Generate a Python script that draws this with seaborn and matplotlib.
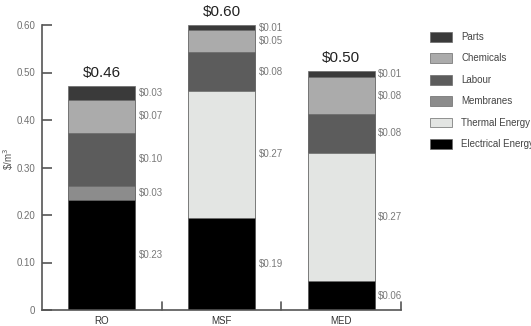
import numpy as np
import pandas as pd
import matplotlib
matplotlib.use("Agg")
import matplotlib.pyplot as plt
import seaborn as sns
from matplotlib.patches import Patch

# ---- data ----
methods = ["RO", "MSF", "MED"]
components = ["Electrical Energy", "Thermal Energy", "Membranes", "Labour", "Chemicals", "Parts"]  # bottom -> top
# drawn segment heights ($/m3)
electrical = [0.232, 0.194, 0.061]
thermal = [0.0, 0.267, 0.270]
membranes = [0.029, 0.0, 0.0]
labour = [0.112, 0.082, 0.082]
chemicals = [0.069, 0.046, 0.077]
parts = [0.030, 0.011, 0.013]
# printed labels
electrical_lbl = ["$0.23", "$0.19", "$0.06"]
thermal_lbl = ["", "$0.27", "$0.27"]
membranes_lbl = ["$0.03", "", ""]
labour_lbl = ["$0.10", "$0.08", "$0.08"]
chemicals_lbl = ["$0.07", "$0.05", "$0.08"]
parts_lbl = ["$0.03", "$0.01", "$0.01"]
totals_lbl = ["$0.46", "$0.60", "$0.50"]
yticks = [0, 0.10, 0.20, 0.30, 0.40, 0.50, 0.60]
ytick_labels = ["0", "0.10", "0.20", "0.30", "0.40", "0.50", "0.60"]

colors = {
    "Electrical Energy": "#000000",
    "Thermal Energy": "#e3e5e3",
    "Membranes": "#8c8c8c",
    "Labour": "#5c5c5c",
    "Chemicals": "#ababab",
    "Parts": "#3a3a3a",
}

values = [electrical, thermal, membranes, labour, chemicals, parts]
labels = [electrical_lbl, thermal_lbl, membranes_lbl, labour_lbl, chemicals_lbl, parts_lbl]

rows = []
for comp, vals, lbls in zip(components, values, labels):
    for m, v, l in zip(methods, vals, lbls):
        rows.append({"method": m, "component": comp, "value": v, "label": l})
df = pd.DataFrame(rows)
df["component"] = pd.Categorical(df["component"], components, ordered=True)
df["method"] = pd.Categorical(df["method"], methods, ordered=True)
df = df.sort_values(["method", "component"])
df["top"] = df.groupby("method", observed=True)["value"].cumsum()
df["bottom"] = df["top"] - df["value"]

sns.set_theme(style="white")
plt.rcParams["font.family"] = ["Liberation Sans", "DejaVu Sans"]

fig = plt.figure(figsize=(5.31, 3.26), dpi=100)
ax = fig.add_axes([42 / 531, 16 / 326, (401 - 42) / 531, (310 - 25) / 326])

bar_w = 0.56
# draw cumulative bars from top component down so each covers the one above
for comp in components[::-1]:
    sub = df[df["component"] == comp]
    sns.barplot(data=sub, x="method", y="top", order=methods, color=colors[comp],
                saturation=1, errorbar=None, width=bar_w, ax=ax,
                edgecolor="#6a6a6a", linewidth=0.5)

# value labels
for _, r in df.iterrows():
    if r["label"]:
        xi = methods.index(r["method"])
        ax.text(xi + bar_w / 2 + 0.03, (r["bottom"] + r["top"]) / 2, r["label"],
                ha="left", va="center", fontsize=7, color="#7a7a7a")

totals = df.groupby("method", observed=True)["top"].max()
for xi, m in enumerate(methods):
    ax.text(xi, totals[m] + 0.012, totals_lbl[xi], ha="center", va="bottom",
            fontsize=11, color="#222222", clip_on=False)

ax.set_xlim(-0.5, 2.5)
ax.set_ylim(0, 0.6)
ax.set_yticks(yticks)
ax.set_yticklabels(ytick_labels, fontsize=7, color="#707070")
ax.set_xticks([0, 1, 2])
ax.set_xticklabels(methods, fontsize=7, color="#333333")
ax.tick_params(axis="x", length=0, pad=4)
ax.tick_params(axis="y", direction="in", length=7, width=1.2, color="#555555", pad=5, left=True)
for xb in [0.5, 1.5, 2.5]:
    ax.plot([xb, xb], [0, 0.016], color="#555555", lw=1.2, clip_on=False)
ax.set_xlabel("")
ax.set_ylabel(r"\$/m$^3$", fontsize=7, color="#555555")
ax.yaxis.set_label_coords(-0.072, 0.53)

for s in ["top", "right"]:
    ax.spines[s].set_visible(False)
for s in ["left", "bottom"]:
    ax.spines[s].set_color("#555555")
    ax.spines[s].set_linewidth(1.2)

handles = [Patch(facecolor=colors[c], edgecolor="#6a6a6a", linewidth=0.5) for c in components[::-1]]
leg = ax.legend(handles, components[::-1], loc="upper left", bbox_to_anchor=(1.07, 0.99),
                frameon=False, fontsize=7, handlelength=2.3, handleheight=1.2,
                labelspacing=1.15, handletextpad=0.9, borderaxespad=0)
for t in leg.get_texts():
    t.set_color("#444444")

fig.savefig("out.png", dpi=100)
